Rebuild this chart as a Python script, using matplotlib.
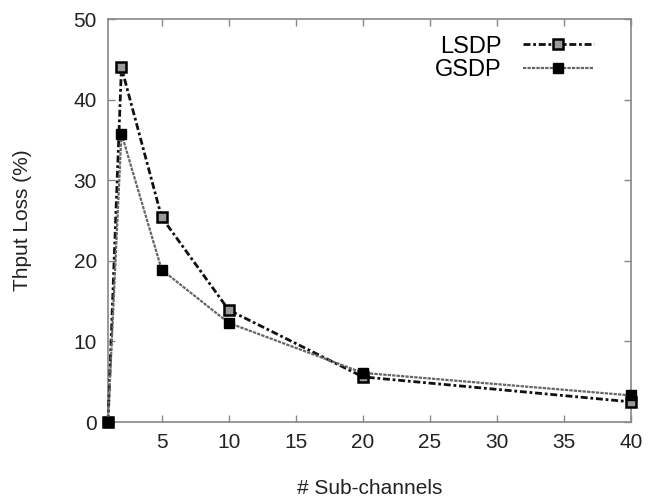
import numpy as np
import matplotlib.pyplot as plt

plt.rcParams['font.family'] = ['Liberation Sans', 'DejaVu Sans']

# valores
sub_canais = [1, 2, 5, 10, 20, 40]
lsdp = [0, 44.0, 25.4, 13.9, 5.6, 2.5]
gsdp = [0, 35.8, 18.9, 12.3, 6.1, 3.3]

fig = plt.figure(figsize=(6.48, 5.03), dpi=100)
ax = fig.add_axes([0.1667, 0.161, 0.8073, 0.801])

ax.plot(sub_canais, lsdp, color='#111111', linestyle=(0, (2.5, 1, 1, 1)), linewidth=2.0,
        marker='s', markersize=7, markerfacecolor='#999999', markeredgecolor='black',
        markeredgewidth=1.8, label='LSDP', clip_on=False, zorder=3)
ax.plot(sub_canais, gsdp, color='#666666', linestyle=(0, (1.5, 0.5)), linewidth=1.6,
        marker='s', markersize=6.5, markerfacecolor='black', markeredgecolor='black',
        label='GSDP', clip_on=False, zorder=3)

ax.set_xlim(1, 40)
ax.set_ylim(0, 50)
ax.set_xticks(np.arange(5, 41, 5))
ax.set_yticks(np.arange(0, 51, 10))
ax.tick_params(direction='in', top=True, right=True, length=5, width=1, colors='#888888',
               labelcolor='#222222', labelsize=15, pad=8)
for s in ax.spines.values():
    s.set_color('#888888')
    s.set_linewidth(1.2)

ax.set_xlabel('# Sub-channels', fontsize=15, color='#222222', labelpad=19)
ax.set_ylabel('Thput Loss (%)', fontsize=15, color='#222222', labelpad=30)

leg = ax.legend(loc='upper right', frameon=False, markerfirst=False, fontsize=17,
                handlelength=3.0, handletextpad=0.9, borderaxespad=0.3,
                labelspacing=0.05, bbox_to_anchor=(0.96, 1.0))

fig.savefig('out.png', dpi=100)
